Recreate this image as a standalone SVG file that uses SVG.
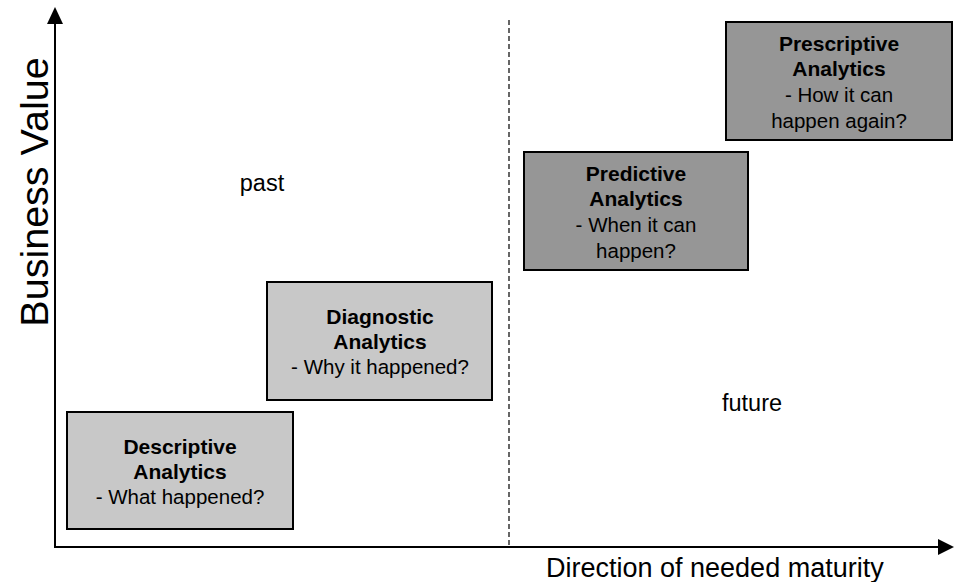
<svg xmlns="http://www.w3.org/2000/svg" width="956" height="582" viewBox="0 0 956 582">
  <style>
    .box-light { fill: #c8c8c8; stroke: #000; stroke-width: 2; }
    .box-dark { fill: #969696; stroke: #000; stroke-width: 2; }
    .t { font-family: "Liberation Sans", Arial, sans-serif; font-size: 20.5px; fill: #000; text-anchor: middle; }
    .b { font-weight: bold; font-size: 21px; }
    .lbl { font-family: "Liberation Sans", Arial, sans-serif; font-size: 23.5px; fill: #000; }
    .axis { stroke: #000; stroke-width: 2; fill: none; }
  </style>

  <!-- axes and divider -->
  <g id="connectors">
    <line class="axis" x1="55" y1="548" x2="55" y2="22"/>
    <path d="M55,7 L47,24 L63,24 Z" fill="#000"/>
    <line class="axis" x1="54" y1="547" x2="938" y2="547"/>
    <path d="M954,547 L938,539 L938,555 Z" fill="#000"/>
    <line x1="509" y1="20" x2="509" y2="547" stroke="#000" stroke-width="1.2" stroke-dasharray="5,3"/>
  </g>

  <!-- axis titles and zone labels -->
  <g id="labels">
    <text class="lbl" style="font-size:39.5px" text-anchor="middle" transform="translate(48,192) rotate(-90)">Business Value</text>
    <text class="lbl" style="font-size:27px" x="546" y="577">Direction of needed maturity</text>
    <text class="lbl" x="262" y="191" text-anchor="middle">past</text>
    <text class="lbl" x="752" y="411" text-anchor="middle">future</text>
  </g>

  <g id="descriptive">
    <rect class="box-light" x="67" y="412" width="226" height="117"/>
    <text class="t b" x="180" y="454">Descriptive</text>
    <text class="t b" x="180" y="479">Analytics</text>
    <text class="t" x="180" y="504">- What happened?</text>
  </g>

  <g id="diagnostic">
    <rect class="box-light" x="267" y="282" width="225" height="118"/>
    <text class="t b" x="380" y="324">Diagnostic</text>
    <text class="t b" x="380" y="349">Analytics</text>
    <text class="t" x="380" y="374">- Why it happened?</text>
  </g>

  <g id="predictive">
    <rect class="box-dark" x="524" y="152" width="224" height="118"/>
    <text class="t b" x="636" y="181">Predictive</text>
    <text class="t b" x="636" y="206">Analytics</text>
    <text class="t" x="636" y="232">- When it can</text>
    <text class="t" x="636" y="258">happen?</text>
  </g>

  <g id="prescriptive">
    <rect class="box-dark" x="726" y="22" width="226" height="118"/>
    <text class="t b" x="839" y="51">Prescriptive</text>
    <text class="t b" x="839" y="76">Analytics</text>
    <text class="t" x="839" y="102">- How it can</text>
    <text class="t" x="839" y="128">happen again?</text>
  </g>
</svg>
